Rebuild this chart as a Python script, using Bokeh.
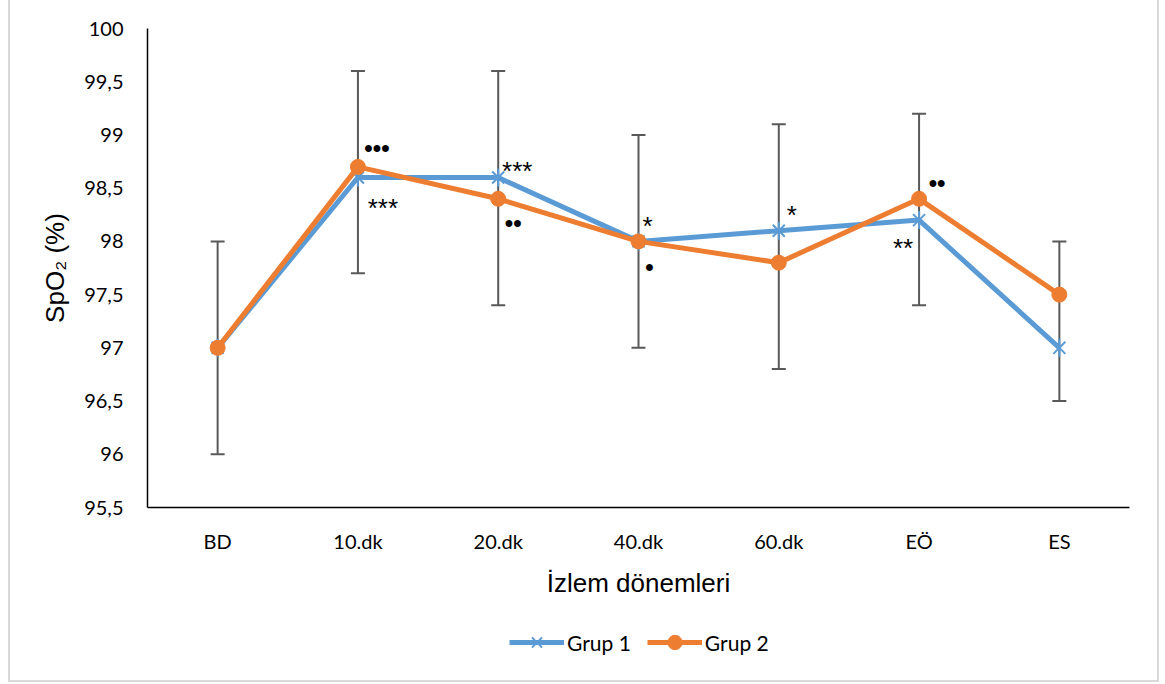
from bokeh.plotting import figure
from bokeh.layouts import column
from bokeh.models import (ColumnDataSource, FactorRange, Range1d, FixedTicker,
                          Whisker, TeeHead, Legend, LegendItem)
from bokeh.core.properties import value
from bokeh.embed import file_html
from bokeh.resources import INLINE
import math

# Monitoring periods
periods = ["BD", "10.dk", "20.dk", "40.dk", "60.dk", "EÖ", "ES"]

# Mean SpO2 (%) per group
grup1 = [97.0, 98.6, 98.6, 98.0, 98.1, 98.2, 97.0]
grup2 = [97.0, 98.7, 98.4, 98.0, 97.8, 98.4, 97.5]

# Error bar limits
err_low = [96.0, 97.7, 97.4, 97.0, 96.8, 97.4, 96.5]
err_high = [98.0, 99.6, 99.6, 99.0, 99.1, 99.2, 98.0]

# Y axis ticks
y_ticks = [95.5, 96.0, 96.5, 97.0, 97.5, 98.0, 98.5, 99.0, 99.5, 100.0]

# Significance markers: period, y level, symbol, horizontal shift (px)
star_period = ["10.dk", "20.dk", "40.dk", "60.dk", "EÖ"]
star_y = [98.385, 98.74, 98.22, 98.32, 98.01]
star_text = ["***", "***", "*", "*", "**"]
star_dx = [25, 19, 9, 13, -16]

dot_period = ["10.dk", "20.dk", "40.dk", "EÖ"]
dot_y = [98.88, 98.18, 97.76, 98.55]
dot_text = ["•••", "••", "•", "••"]
dot_dx = [19, 15, 11, 18]

BLUE = "#5B9BD5"
ORANGE = "#ED7D31"
GREY = "#595959"

p = figure(x_range=FactorRange(factors=periods, range_padding=0),
           y_range=Range1d(95.5, 100.0),
           width=1147, height=610,
           output_backend="svg", toolbar_location=None,
           min_border_left=137, min_border_right=28,
           min_border_top=28, min_border_bottom=103)
p.outline_line_color = None
p.xgrid.grid_line_color = None
p.ygrid.grid_line_color = None
p.background_fill_color = "white"
p.border_fill_color = "white"

# Axes
p.yaxis.ticker = FixedTicker(ticks=y_ticks)
p.yaxis.major_label_overrides = {t: (f"{t:g}").replace(".", ",") for t in y_ticks}
for ax in (p.xaxis[0], p.yaxis[0]):
    ax.axis_line_color = "black"
    ax.axis_line_width = 1.5
    ax.major_tick_line_color = None
    ax.minor_tick_line_color = None
    ax.major_tick_in = 0
    ax.major_tick_out = 0
    ax.major_label_text_font = "Lato"
    ax.major_label_text_font_size = "20px"
    ax.major_label_text_color = "black"
    ax.axis_label_text_font = "Liberation Sans"
    ax.axis_label_text_font_size = "26px"
    ax.axis_label_text_font_style = "normal"
    ax.axis_label_text_color = "black"
p.yaxis.major_label_standoff = 24
p.xaxis.major_label_standoff = 21
p.yaxis.axis_label = "SpO₂ (%)"
p.yaxis.axis_label_standoff = 11
p.xaxis.axis_label = "İzlem dönemleri"
p.xaxis.axis_label_standoff = 12

# Error bars
err_src = ColumnDataSource(dict(x=periods, lo=err_low, hi=err_high))
wh = Whisker(source=err_src, base="x", lower="lo", upper="hi",
             line_color=GREY, line_width=2,
             upper_head=TeeHead(size=14, line_color=GREY, line_width=2),
             lower_head=TeeHead(size=14, line_color=GREY, line_width=2),
             level="underlay")
p.add_layout(wh)

# Series
src1 = ColumnDataSource(dict(x=periods, y=grup1))
src2 = ColumnDataSource(dict(x=periods, y=grup2))


def draw_series(fig):
    g1_line = fig.line("x", "y", source=src1, line_color=BLUE, line_width=5)
    g1_x = fig.scatter("x", "y", source=src1, marker="x", size=17,
                       line_color=BLUE, line_width=2)
    g1_bar = fig.scatter("x", "y", source=src1, marker="dash", size=18,
                         angle=math.pi / 2, line_color=BLUE, line_width=2)
    g2_line = fig.line("x", "y", source=src2, line_color=ORANGE, line_width=5)
    g2_dot = fig.scatter("x", "y", source=src2, marker="circle", size=15,
                         fill_color=ORANGE, line_color=ORANGE)
    return [g1_line, g1_x, g1_bar], [g2_line, g2_dot]


draw_series(p)

# Significance symbols
star_src = ColumnDataSource(dict(x=star_period, y=star_y, t=star_text, dx=star_dx))
p.text("x", "y", text="t", source=star_src, x_offset="dx", y_offset=8,
       text_font=value("Liberation Sans"), text_font_size="26px",
       text_color="black", text_align="center", text_baseline="middle")

dot_src = ColumnDataSource(dict(x=dot_period, y=dot_y, t=dot_text, dx=dot_dx))
p.text("x", "y", text="t", source=dot_src, x_offset="dx",
       text_font=value("Liberation Sans"), text_font_size="24px",
       text_font_style="bold", text_color="black",
       text_align="center", text_baseline="middle")

# Legend strip under the chart: same series, out of its visible range,
# so only the legend entries show
leg = figure(x_range=FactorRange(factors=periods, range_padding=0),
             y_range=Range1d(0, 1),
             width=1147, height=70,
             output_backend="svg", toolbar_location=None,
             x_axis_location=None, y_axis_location=None,
             min_border=0)
leg.outline_line_color = None
leg.xgrid.grid_line_color = None
leg.ygrid.grid_line_color = None
g1_items, g2_items = draw_series(leg)

legend = Legend(items=[LegendItem(label="Grup 1", renderers=g1_items),
                       LegendItem(label="Grup 2", renderers=g2_items)],
                orientation="horizontal", location=(362, 20),
                glyph_width=55, glyph_height=36, label_standoff=3, spacing=16,
                padding=0, margin=0, border_line_color=None,
                background_fill_alpha=0,
                label_text_font="Lato", label_text_font_size="21px",
                label_text_color="black")
leg.add_layout(legend)

page = column(p, leg, spacing=0,
              styles={"margin-left": "8px",
                      "border-left": "2px solid #d9d9d9",
                      "border-right": "2px solid #d9d9d9",
                      "border-bottom": "2px solid #d9d9d9"})

open("out.html", "w").write(file_html(page, INLINE))
